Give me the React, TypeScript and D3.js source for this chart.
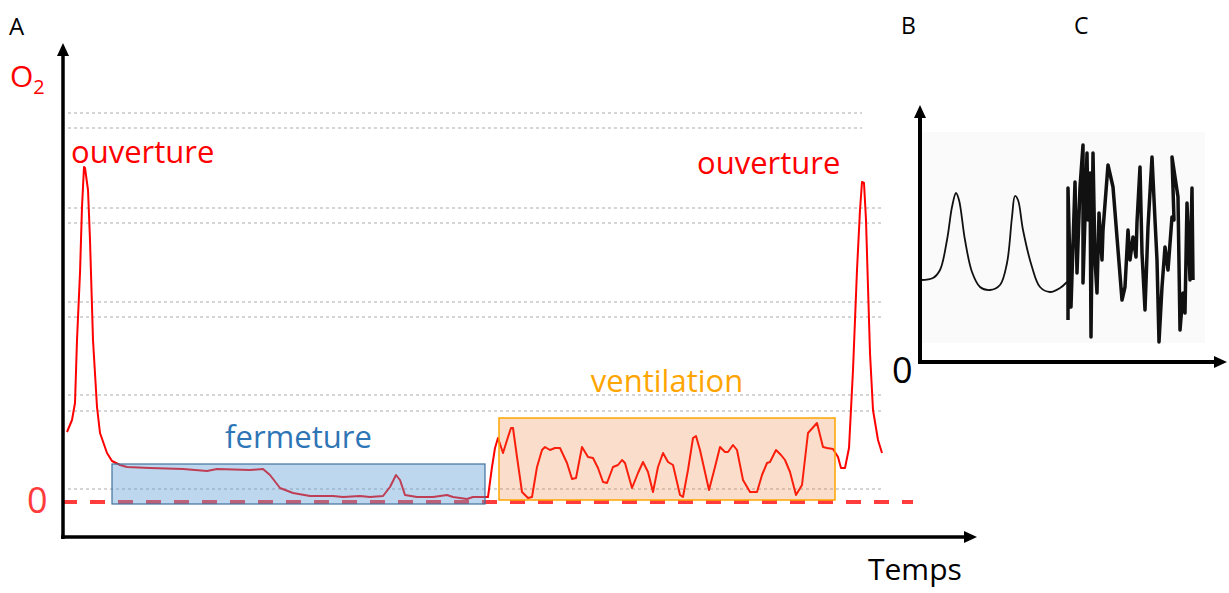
import React from "react";
import * as d3 from "d3";

// Panel A: O2 trace, [time, O2] in arbitrary units
const o2Trace: [number, number][] = [
  [0.8, 14.0], [1.8, 16.4], [2.4, 19.8], [2.8, 32.4], [3.4, 45.8], [3.8, 59.0], [4.2, 67.0], [4.4, 66.8],
  [5.0, 62.4], [5.4, 52.4], [6.0, 32.4], [6.8, 19.0], [7.4, 13.8], [8.8, 9.8], [9.8, 8.2], [11.4, 7.4],
  [12.8, 7.0], [17.4, 6.8], [24.0, 6.6], [28.8, 6.2], [30.8, 6.6], [37.4, 6.4], [40.0, 6.6], [41.4, 5.4],
  [43.4, 2.8], [46.0, 1.8], [49.4, 1.2], [54.0, 1.2], [56.0, 1.0], [59.4, 1.2], [61.4, 1.0], [64.0, 1.2],
  [65.4, 3.0], [66.6, 5.4], [67.4, 4.4], [68.4, 1.4], [70.8, 1.0], [74.0, 1.0], [76.8, 1.4], [78.0, 1.0],
  [80.8, 0.6], [82.0, 1.0], [84.4, 1.0], [85.0, 1.0], [85.8, 7.0], [86.4, 10.8], [87.0, 12.8], [88.0, 9.8],
  [89.0, 13.0], [89.6, 14.8], [90.0, 14.8], [90.8, 9.0], [91.8, 2.0], [93.0, 0.8], [93.8, 1.0], [94.8, 7.0],
  [95.8, 10.4], [96.4, 11.0], [97.4, 10.4], [98.4, 10.8], [99.4, 10.8], [100.8, 7.8], [101.8, 4.6], [102.6, 4.8],
  [103.8, 11.0], [105.0, 9.0], [106.0, 8.8], [107.0, 6.8], [108.0, 4.0], [108.8, 3.8], [110.0, 7.0], [111.0, 7.4],
  [111.8, 8.4], [112.4, 7.8], [113.8, 2.8], [115.0, 5.8], [116.0, 8.0], [117.0, 6.0], [118.0, 2.0], [119.0, 7.0],
  [120.0, 9.8], [121.0, 8.0], [122.0, 7.4], [123.4, 1.4], [124.0, 1.0], [125.0, 6.4], [126.0, 12.8], [126.6, 13.2],
  [127.4, 10.4], [129.2, 2.4], [130.4, 7.0], [131.4, 11.0], [132.4, 10.0], [133.0, 10.0], [134.0, 11.4], [134.8, 10.4],
  [136.0, 4.4], [137.4, 2.0], [138.8, 2.0], [139.8, 5.4], [140.8, 7.8], [141.4, 8.0], [142.6, 10.4], [143.6, 9.4],
  [144.4, 8.4], [145.4, 6.0], [146.6, 1.4], [147.8, 3.4], [149.0, 13.8], [150.8, 15.8], [152.0, 11.0], [152.8, 10.8],
  [154.0, 10.6], [155.0, 9.0], [155.6, 6.8], [156.4, 6.8], [157.2, 10.8], [158.0, 26.4], [158.8, 46.4], [159.4, 58.4],
  [159.8, 64.0], [160.2, 63.8], [160.6, 56.4], [161.0, 43.0], [161.4, 29.8], [162.0, 18.4], [163.0, 12.4], [163.8, 9.8],
];

const gridLevels = [2.6, 18.2, 21.4, 37, 40, 55.8, 58.8, 74.8, 77.8];
const gridEndShort = 159.8;
const gridEndLong = 163.8;

// phases
const phaseFermeture = { label: "fermeture", t0: 9.8, t1: 84.4, v0: -0.4, v1: 7.6 };
const phaseVentilation = { label: "ventilation", t0: 87.2, t1: 154.4, v0: 0.4, v1: 16.8 };
const openLabels = ["ouverture", "ouverture"];

// Panel B: regular cycles
const traceB: [number, number][] = [
  [0.2, 16.4], [2.6, 16.8], [4.0, 18.4], [5.4, 24.4], [6.4, 31.0], [7.2, 33.8], [7.8, 32.4], [9.0, 24.4],
  [10.4, 18.0], [12.0, 15.0], [14.0, 14.4], [16.0, 15.4], [17.4, 19.8], [18.4, 29.0], [19.0, 33.2], [19.6, 32.4],
  [20.6, 26.4], [22.4, 19.0], [24.0, 15.0], [26.0, 14.0], [28.0, 14.8], [29.4, 16.0],
];

// Panel C: erratic trace
const traceC: [number, number][] = [
  [29.6, 8.4], [29.6, 34.8], [30.2, 11.0], [31.0, 36.0], [31.4, 17.8], [32.0, 35.0], [32.6, 43.4], [32.6, 15.8],
  [33.4, 41.8], [33.6, 28.4], [34.0, 37.8], [34.2, 5.0], [34.6, 41.8], [35.0, 20.4], [35.4, 13.8], [35.8, 29.8],
  [36.4, 20.4], [36.6, 26.4], [37.6, 39.4], [38.6, 35.0], [40.4, 12.4], [41.0, 15.0], [41.6, 26.4], [42.0, 20.4],
  [42.6, 25.0], [43.2, 21.0], [43.4, 28.0], [44.0, 39.0], [44.4, 21.8], [45.0, 10.4], [45.6, 27.0], [46.4, 41.0],
  [47.0, 28.4], [47.4, 20.4], [47.8, 4.0], [48.4, 15.0], [49.0, 23.0], [49.6, 18.4], [50.4, 29.0], [50.8, 28.4],
  [50.4, 41.0], [51.6, 33.0], [52.0, 6.4], [52.6, 13.8], [53.0, 9.8], [53.4, 31.8], [54.0, 16.4], [54.4, 34.8],
  [54.6, 16.4],
];

const FONT = "'Open Sans', 'Noto Sans', sans-serif";

export default function App() {
  const W = 1229, H = 593;
  // Panel A scales
  const x = d3.scaleLinear().domain([0, 182.8]).range([63, 977]);
  const y = d3.scaleLinear().domain([0, 80]).range([502, 102]);
  // Panel B/C scales
  const xb = d3.scaleLinear().domain([0, 61.4]).range([920, 1227]);
  const yb = d3.scaleLinear().domain([0, 52]).range([362, 102]);

  const lineA = d3.line<[number, number]>().x(d => x(d[0])).y(d => y(d[1]));
  const lineB = d3.line<[number, number]>().x(d => xb(d[0])).y(d => yb(d[1])).curve(d3.curveCatmullRom);
  const lineC = d3.line<[number, number]>().x(d => xb(d[0])).y(d => yb(d[1]));

  const axA = x(0), ayBottom = 537, ayTop = 43, axRight = 977;
  const bx = xb(0), by = yb(0), byTop = 105, bxRight = 1227;

  return (
    <svg width={W} height={H} style={{ position: "absolute", left: 0, top: 0, display: "block" }} fontFamily={FONT}>
      <rect width={W} height={H} fill="#fff" />
      {/* Panel A gridlines */}
      {gridLevels.map((g, i) => (
        <line key={i} x1={x(1)} x2={x(g > 70 ? gridEndShort : gridEndLong)} y1={y(g)} y2={y(g)}
          stroke="#c8c8c8" strokeWidth={1.5} strokeDasharray="3 3" />
      ))}
      {/* zero dashed line */}
      <line x1={x(-0.2)} x2={x(170)} y1={y(0)} y2={y(0)} stroke="#ff3b3b" strokeWidth={4} strokeDasharray="15 13" />
      {/* O2 trace */}
      <path d={lineA(o2Trace) || ""} fill="none" stroke="#ff0000" strokeWidth={2} strokeLinejoin="round" />
      {/* phase boxes */}
      <rect x={x(phaseFermeture.t0)} y={y(phaseFermeture.v1)} width={x(phaseFermeture.t1) - x(phaseFermeture.t0)}
        height={y(phaseFermeture.v0) - y(phaseFermeture.v1)} fill="rgb(91,155,213)" fillOpacity={0.4}
        stroke="#41719c" strokeWidth={1.2} />
      <rect x={x(phaseVentilation.t0)} y={y(phaseVentilation.v1)} width={x(phaseVentilation.t1) - x(phaseVentilation.t0)}
        height={y(phaseVentilation.v0) - y(phaseVentilation.v1)} fill="rgb(237,125,49)" fillOpacity={0.25}
        stroke="#ffa500" strokeWidth={1.5} />
      <text x={(x(phaseFermeture.t0) + x(phaseFermeture.t1)) / 2} y={448} textAnchor="middle" fontSize={31} fill="#2e75b6">{phaseFermeture.label}</text>
      <text x={(x(phaseVentilation.t0) + x(phaseVentilation.t1)) / 2} y={392} textAnchor="middle" fontSize={31} fill="#ffa500">{phaseVentilation.label}</text>
      <text x={71} y={163} fontSize={31} fill="#ff0000">{openLabels[0]}</text>
      <text x={697} y={174} fontSize={31} fill="#ff0000">{openLabels[1]}</text>
      {/* Panel A axes */}
      <line x1={axA} x2={axA} y1={ayBottom + 2} y2={ayTop + 10} stroke="#000" strokeWidth={3.5} />
      <path d={`M${axA},${ayTop} L${axA - 6},${ayTop + 13} L${axA + 6},${ayTop + 13} Z`} fill="#000" />
      <line x1={axA - 2} x2={axRight - 10} y1={ayBottom} y2={ayBottom} stroke="#000" strokeWidth={3.5} />
      <path d={`M${axRight},${ayBottom} L${axRight - 13},${ayBottom - 6} L${axRight - 13},${ayBottom + 6} Z`} fill="#000" />
      <text x={9} y={35} fontSize={24} fill="#000">A</text>
      <text x={10} y={87} fontSize={30} fill="#ff0000">O<tspan fontSize={20} dy={7}>2</tspan></text>
      <text x={27} y={513} fontSize={36} fill="#ff3b3b">0</text>
      <text x={868} y={580} fontSize={30} fill="#000">Temps</text>

      {/* Panel B/C */}
      <rect x={922} y={132} width={283} height={211} fill="#fafafa" />
      <path d={lineB(traceB) || ""} fill="none" stroke="#111" strokeWidth={1.8} />
      <path d={lineC(traceC) || ""} fill="none" stroke="#111" strokeWidth={3.5} strokeLinejoin="round" />
      <line x1={bx} x2={bx} y1={by + 2} y2={byTop + 10} stroke="#000" strokeWidth={4} />
      <path d={`M${bx},${byTop} L${bx - 6},${byTop + 13} L${bx + 6},${byTop + 13} Z`} fill="#000" />
      <line x1={bx - 2} x2={bxRight - 10} y1={by} y2={by} stroke="#000" strokeWidth={4} />
      <path d={`M${bxRight},${by} L${bxRight - 13},${by - 6} L${bxRight - 13},${by + 6} Z`} fill="#000" />
      <text x={892} y={383} fontSize={36} fill="#000">0</text>
      <text x={901} y={34} fontSize={23} fill="#000">B</text>
      <text x={1074} y={34} fontSize={23} fill="#000">C</text>
    </svg>
  );
}
